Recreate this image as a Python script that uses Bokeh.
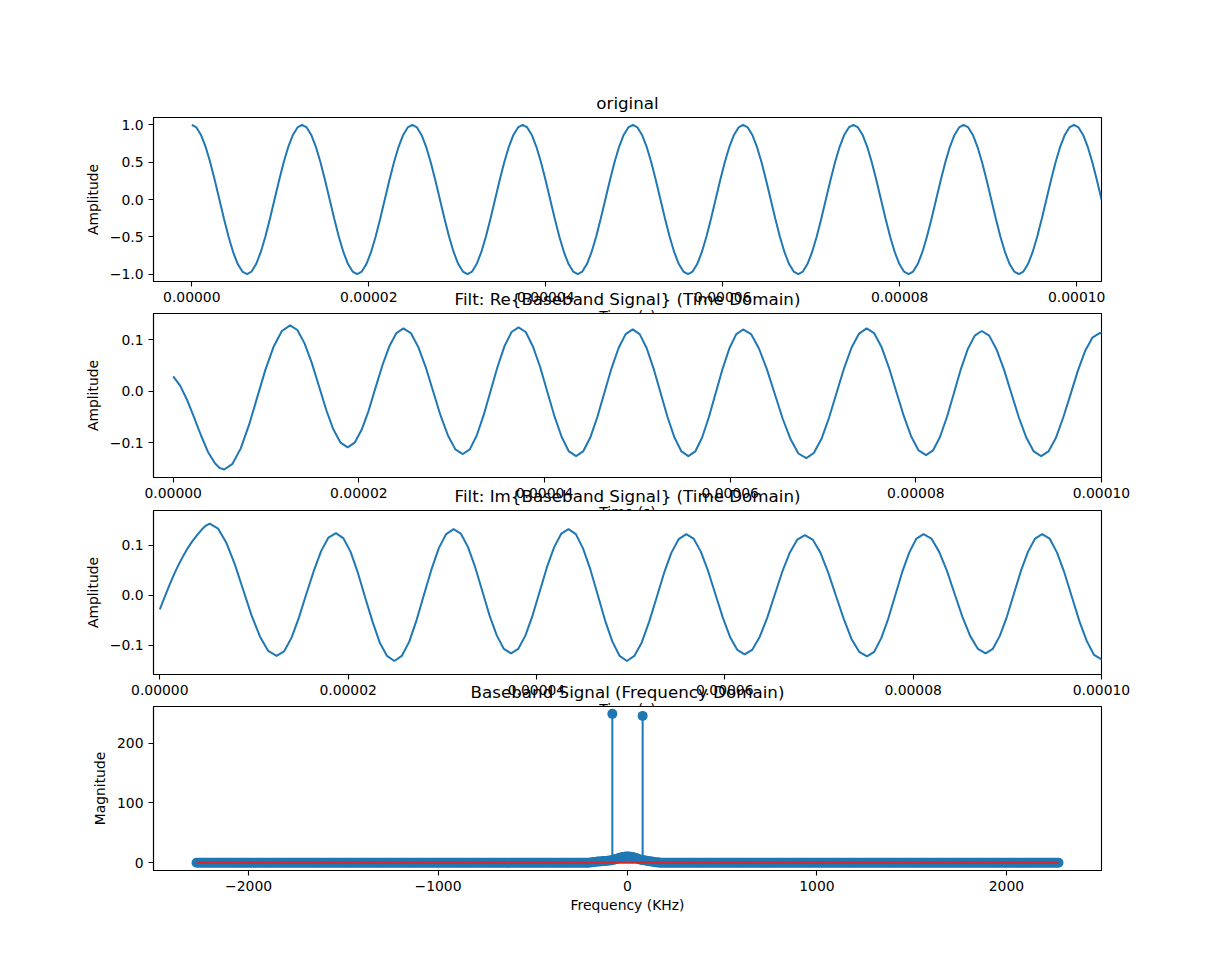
import numpy as np
from bokeh.plotting import figure
from bokeh.layouts import column
from bokeh.models import Range1d, FixedTicker, CustomJSTickFormatter
from bokeh.embed import file_html
from bokeh.resources import INLINE

# ---------------- data ----------------
# panel 1: original carrier, sampled every 0.5192 us (24 samples per 12.46 us period)
orig_step_us = 0.5192
orig_amp = [
    1.0, 0.966, 0.866, 0.707, 0.5, 0.259, 0.0, -0.259, -0.5, -0.707, -0.866, -0.966,
    -1.0, -0.966, -0.866, -0.707, -0.5, -0.259, 0.0, 0.259, 0.5, 0.707, 0.866, 0.966,
    1.0, 0.966, 0.866, 0.707, 0.5, 0.259, 0.0, -0.259, -0.5, -0.707, -0.866, -0.966,
    -1.0, -0.966, -0.866, -0.707, -0.5, -0.259, 0.0, 0.259, 0.5, 0.707, 0.866, 0.966,
    1.0, 0.966, 0.866, 0.707, 0.5, 0.259, 0.0, -0.259, -0.5, -0.707, -0.866, -0.966,
    -1.0, -0.966, -0.866, -0.707, -0.5, -0.259, 0.0, 0.259, 0.5, 0.707, 0.866, 0.966,
    1.0, 0.966, 0.866, 0.707, 0.5, 0.259, 0.0, -0.259, -0.5, -0.707, -0.866, -0.966,
    -1.0, -0.966, -0.866, -0.707, -0.5, -0.259, 0.0, 0.259, 0.5, 0.707, 0.866, 0.966,
    1.0, 0.966, 0.866, 0.707, 0.5, 0.259, 0.0, -0.259, -0.5, -0.707, -0.866, -0.966,
    -1.0, -0.966, -0.866, -0.707, -0.5, -0.259, 0.0, 0.259, 0.5, 0.707, 0.866, 0.966,
    1.0, 0.966, 0.866, 0.707, 0.5, 0.259, 0.0, -0.259, -0.5, -0.707, -0.866, -0.966,
    -1.0, -0.966, -0.866, -0.707, -0.5, -0.259, 0.0, 0.259, 0.5, 0.707, 0.866, 0.966,
    1.0, 0.966, 0.866, 0.707, 0.5, 0.259, 0.0, -0.259, -0.5, -0.707, -0.866, -0.966,
    -1.0, -0.966, -0.866, -0.707, -0.5, -0.259, 0.0, 0.259, 0.5, 0.707, 0.866, 0.966,
    1.0, 0.966, 0.866, 0.707, 0.5, 0.259, 0.0, -0.259, -0.5, -0.707, -0.866, -0.966,
    -1.0, -0.966, -0.866, -0.707, -0.5, -0.259, 0.0, 0.259, 0.5, 0.707, 0.866, 0.966,
    1.0, 0.966, 0.866, 0.707, 0.5, 0.259, 0.0,
]

# panel 2: Re{baseband}  (time in microseconds)
re_t_us = [0, 0.75, 1.5, 2.25, 3.0, 3.75, 4.5, 5.0, 5.5,
           6.39, 7.28, 8.16, 9.05, 9.94, 10.83, 11.71, 12.6,
           13.38, 14.15, 14.93, 15.7, 16.48, 17.25, 18.03, 18.8,
           19.55, 20.3, 21.05, 21.8, 22.55, 23.3, 24.05, 24.8,
           25.6, 26.4, 27.2, 28.0, 28.8, 29.6, 30.4, 31.2,
           31.95, 32.7, 33.45, 34.2, 34.95, 35.7, 36.45, 37.2,
           37.98, 38.75, 39.53, 40.3, 41.08, 41.85, 42.63, 43.4,
           44.16, 44.93, 45.69, 46.45, 47.21, 47.98, 48.74, 49.5,
           50.25, 51.0, 51.75, 52.5, 53.25, 54.0, 54.75, 55.5,
           56.24, 56.98, 57.71, 58.45, 59.19, 59.93, 60.66, 61.4,
           62.25, 63.1, 63.95, 64.8, 65.65, 66.5, 67.35, 68.2,
           69.01, 69.83, 70.64, 71.45, 72.26, 73.08, 73.89, 74.7,
           75.5, 76.3, 77.1, 77.9, 78.7, 79.5, 80.3, 81.1,
           81.85, 82.6, 83.35, 84.1, 84.85, 85.6, 86.35, 87.1,
           87.9, 88.7, 89.5, 90.3, 91.1, 91.9, 92.7, 93.5,
           94.29, 95.08, 95.86, 96.65, 97.44, 98.23, 99.01, 99.8, 100.6]
re_amp = [0.029, 0.011, -0.017, -0.051, -0.086, -0.118, -0.140, -0.149, -0.152,
          -0.141, -0.111, -0.066, -0.012, 0.042, 0.087, 0.117, 0.128,
          0.119, 0.093, 0.055, 0.010, -0.036, -0.074, -0.100, -0.109,
          -0.100, -0.075, -0.038, 0.007, 0.051, 0.088, 0.113, 0.122,
          0.113, 0.086, 0.047, 0.0, -0.047, -0.086, -0.113, -0.122,
          -0.113, -0.086, -0.046, 0.001, 0.048, 0.088, 0.115, 0.124,
          0.115, 0.087, 0.047, -0.001, -0.049, -0.089, -0.117, -0.126,
          -0.117, -0.090, -0.050, -0.003, 0.044, 0.084, 0.111, 0.120,
          0.111, 0.084, 0.044, -0.003, -0.050, -0.090, -0.117, -0.126,
          -0.117, -0.090, -0.050, -0.003, 0.044, 0.084, 0.111, 0.120,
          0.111, 0.083, 0.043, -0.005, -0.053, -0.093, -0.121, -0.130,
          -0.120, -0.093, -0.052, -0.004, 0.044, 0.085, 0.112, 0.122,
          0.113, 0.086, 0.046, -0.001, -0.048, -0.088, -0.115, -0.124,
          -0.115, -0.089, -0.050, -0.004, 0.043, 0.082, 0.108, 0.117,
          0.108, 0.081, 0.042, -0.005, -0.051, -0.090, -0.117, -0.126,
          -0.117, -0.091, -0.052, -0.007, 0.039, 0.078, 0.104, 0.113, 0.112]

# panel 3: Im{baseband}
im_t_us = [0, 0.5, 1.0, 1.5, 2.0, 2.5, 3.0, 3.5, 4.0, 4.5, 4.9, 5.3,
           6.19, 7.08, 7.96, 8.85, 9.74, 10.63, 11.51, 12.4,
           13.19, 13.98, 14.76, 15.55, 16.34, 17.13, 17.91, 18.7,
           19.48, 20.25, 21.03, 21.8, 22.58, 23.35, 24.13, 24.9,
           25.69, 26.48, 27.26, 28.05, 28.84, 29.63, 30.41, 31.2,
           31.96, 32.73, 33.49, 34.25, 35.01, 35.78, 36.54, 37.3,
           38.06, 38.83, 39.59, 40.35, 41.11, 41.88, 42.64, 43.4,
           44.18, 44.95, 45.73, 46.5, 47.28, 48.05, 48.83, 49.6,
           50.39, 51.18, 51.96, 52.75, 53.54, 54.33, 55.11, 55.9,
           56.68, 57.45, 58.23, 59.0, 59.78, 60.55, 61.33, 62.1,
           62.9, 63.7, 64.5, 65.3, 66.1, 66.9, 67.7, 68.5,
           69.33, 70.15, 70.98, 71.8, 72.63, 73.45, 74.28, 75.1,
           75.85, 76.6, 77.35, 78.1, 78.85, 79.6, 80.35, 81.1,
           81.93, 82.75, 83.58, 84.4, 85.23, 86.05, 86.88, 87.7,
           88.45, 89.2, 89.95, 90.7, 91.45, 92.2, 92.95, 93.7,
           94.49, 95.28, 96.06, 96.85, 97.64, 98.43, 99.21, 100.0, 100.8]
im_amp = [-0.028, -0.004, 0.019, 0.041, 0.061, 0.079, 0.095, 0.109, 0.121, 0.132, 0.139, 0.143,
          0.133, 0.104, 0.062, 0.011, -0.040, -0.082, -0.111, -0.121,
          -0.112, -0.085, -0.045, 0.002, 0.048, 0.088, 0.115, 0.124,
          0.114, 0.087, 0.045, -0.004, -0.052, -0.094, -0.121, -0.131,
          -0.121, -0.093, -0.050, 0.001, 0.051, 0.094, 0.122, 0.132,
          0.123, 0.096, 0.056, 0.008, -0.040, -0.080, -0.107, -0.116,
          -0.107, -0.080, -0.040, 0.008, 0.056, 0.096, 0.123, 0.132,
          0.122, 0.093, 0.051, 0.001, -0.050, -0.092, -0.121, -0.131,
          -0.121, -0.094, -0.053, -0.005, 0.044, 0.085, 0.112, 0.122,
          0.113, 0.087, 0.048, 0.002, -0.044, -0.083, -0.109, -0.118,
          -0.109, -0.083, -0.045, 0.001, 0.047, 0.085, 0.111, 0.120,
          0.111, 0.085, 0.045, -0.001, -0.047, -0.087, -0.113, -0.122,
          -0.113, -0.086, -0.047, 0.0, 0.047, 0.086, 0.113, 0.122,
          0.113, 0.087, 0.049, 0.003, -0.043, -0.081, -0.107, -0.116,
          -0.107, -0.081, -0.043, 0.003, 0.049, 0.087, 0.113, 0.122,
          0.113, 0.085, 0.045, -0.003, -0.051, -0.091, -0.119, -0.128, -0.127]

# panel 4: spectrum (kHz); bins every 10 kHz from -2275 to 2275, flat ~0 except near DC
freq_start_khz, freq_stop_khz, freq_step_khz = -2275, 2275, 10
center_freq_khz = [-195, -185, -175, -165, -155, -145, -135, -125, -115, -105, -95, -85,
                   -80, -75, -65, -55, -45, -35, -25, -15, -5, 5, 15, 25, 35, 45, 55, 65, 75,
                   80, 85, 95, 105, 115, 125, 135, 145, 155, 165]
center_mag = [0.3, 0.8, 1.2, 1.6, 2.0, 2.2, 2.5, 2.7, 3.0, 3.2, 3.6, 4.0,
              249.2, 4.8, 5.8, 6.8, 7.8, 8.8, 9.6, 10.2, 10.6, 10.6, 10.2, 9.6, 8.8, 7.8, 6.6, 5.5, 4.6,
              245.8, 4.2, 3.6, 3.0, 2.5, 2.0, 1.5, 1.0, 0.6, 0.2]

time_ticks = [0.0, 0.00002, 0.00004, 0.00006, 0.00008, 0.0001]
orig_yticks = [-1.0, -0.5, 0.0, 0.5, 1.0]
filt_yticks = [-0.1, 0.0, 0.1]
freq_xticks = [-2000, -1000, 0, 1000, 2000]
mag_yticks = [0, 100, 200]

titles = ["original",
          "Filt: Re{Baseband Signal} (Time Domain)",
          "Filt: Im{Baseband Signal} (Time Domain)",
          "Baseband Signal (Frequency Domain)"]

# ---------------- build ----------------
C0 = "#1f77b4"
C3 = "#d62728"
FONT = "DejaVu Sans"
W = 1223
LEFT, RIGHT = 153, 122
FRAME_H = 164

fmt_time = CustomJSTickFormatter(code="return tick.toFixed(5).replace('-', '\\u2212');")
fmt_1 = CustomJSTickFormatter(code="return tick.toFixed(1).replace('-', '\\u2212');")
fmt_0 = CustomJSTickFormatter(code="return tick.toFixed(0).replace('-', '\\u2212');")


def make_fig(title, top, bottom, xr, yr, xticks, xfmt, yticks, yfmt, xlabel, ylabel, margin_top):
    p = figure(width=W, height=top + FRAME_H + bottom, x_range=Range1d(*xr), y_range=Range1d(*yr),
               output_backend="svg", toolbar_location=None, tools="",
               min_border_left=LEFT, min_border_right=RIGHT,
               min_border_top=top, min_border_bottom=bottom)
    if margin_top:
        p.margin = (margin_top, 0, 0, 0)
    p.border_fill_color = None
    p.background_fill_color = "white"
    p.outline_line_color = "black"
    p.outline_line_width = 1.1
    p.grid.visible = False
    p.title.text = title
    p.title.align = "center"
    p.title.text_font = FONT
    p.title.text_font_size = "16.7px"
    p.title.text_font_style = "normal"
    p.title.text_color = "black"
    for ax in (p.xaxis[0], p.yaxis[0]):
        ax.axis_line_color = "black"
        ax.axis_line_width = 1.1
        ax.major_tick_line_color = "black"
        ax.major_tick_line_width = 1.1
        ax.major_tick_out = 5
        ax.major_tick_in = 0
        ax.minor_tick_line_color = None
        ax.major_label_text_font = FONT
        ax.major_label_text_font_size = "13.9px"
        ax.major_label_text_color = "black"
        ax.major_label_standoff = 5
        ax.axis_label_text_font = FONT
        ax.axis_label_text_font_size = "13.9px"
        ax.axis_label_text_font_style = "normal"
        ax.axis_label_text_color = "black"
        ax.axis_label_standoff = 6
    p.xaxis[0].axis_label_standoff = 3
    p.xaxis[0].ticker = FixedTicker(ticks=xticks)
    p.xaxis[0].formatter = xfmt
    p.yaxis[0].ticker = FixedTicker(ticks=yticks)
    p.yaxis[0].formatter = yfmt
    p.xaxis[0].axis_label = xlabel
    p.yaxis[0].axis_label = ylabel
    p.yaxis[0].major_label_orientation = "horizontal"
    return p


# panel 1
t1 = np.arange(len(orig_amp)) * orig_step_us * 1e-6
p1 = make_fig(titles[0], 117, 60, (-4.33e-6, 1.028e-4), (-1.1, 1.1),
              time_ticks, fmt_time, orig_yticks, fmt_1, "Time (s)", "Amplitude", 0)
p1.line(t1, orig_amp, line_color=C0, line_width=2)

# panel 2
t2 = np.array(re_t_us) * 1e-6
p2 = make_fig(titles[1], 50, 60, (-2.12e-6, 1.0e-4), (-0.1676, 0.151),
              time_ticks, fmt_time, filt_yticks, fmt_1, "Time (s)", "Amplitude", -78)
p2.line(t2, re_amp, line_color=C0, line_width=2)

# panel 3
t3 = np.array(im_t_us) * 1e-6
p3 = make_fig(titles[2], 50, 60, (-6.7e-7, 1.0e-4), (-0.158, 0.169),
              time_ticks, fmt_time, filt_yticks, fmt_1, "Time (s)", "Amplitude", -77)
p3.line(t3, im_amp, line_color=C0, line_width=2)

# panel 4
freq = np.arange(freq_start_khz, freq_stop_khz + 1, freq_step_khz).astype(float)
mag = np.zeros(len(freq))
allf = np.concatenate([freq, np.array(center_freq_khz, dtype=float)])
allm = np.concatenate([mag, np.array(center_mag, dtype=float)])
order = np.argsort(allf, kind="stable")
allf, allm = allf[order], allm[order]
keep = np.ones(len(allf), dtype=bool)
cf = set(center_freq_khz)
for i, (f, m) in enumerate(zip(allf, allm)):
    if f in cf and m == 0.0:
        keep[i] = False
allf, allm = allf[keep], allm[keep]

p4 = make_fig(titles[3], 50, 60, (-2502, 2502), (-13.0, 261.5),
              freq_xticks, fmt_0, mag_yticks, fmt_0, "Frequency (KHz)", "Magnitude", -78)
p4.segment(x0=allf, y0=np.zeros(len(allf)), x1=allf, y1=allm, line_color=C0, line_width=2)
p4.scatter(allf, allm, size=10, fill_color=C0, line_color=C0, line_width=0)
p4.line([freq_start_khz, freq_stop_khz], [0, 0], line_color=C3, line_width=2)

layout = column(p1, p2, p3, p4, spacing=0)

with open("out.html", "w", encoding="utf-8") as fh:
    fh.write(file_html(layout, INLINE))
